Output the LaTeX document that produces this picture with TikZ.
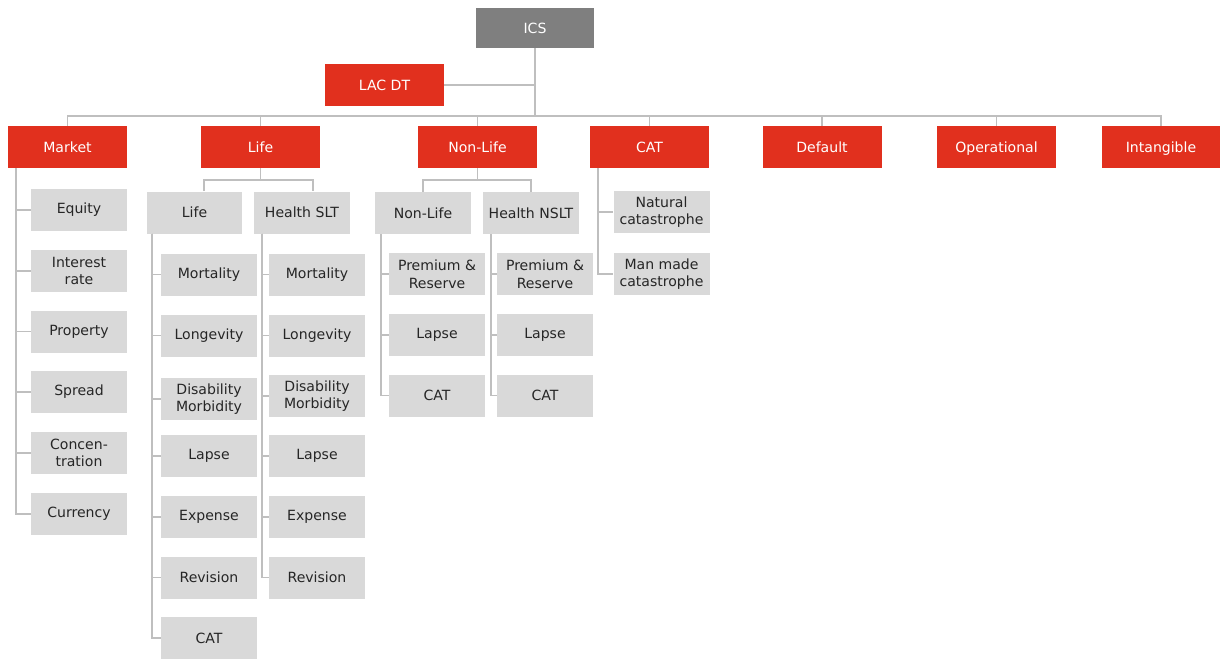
\documentclass[tikz,border=0pt]{standalone}
\usepackage{fontspec}
\setmainfont{DejaVu Sans}
\usepackage{xcolor}
\definecolor{icsred}{HTML}{E1301E}
\definecolor{icsgrey}{HTML}{7F7F7F}
\definecolor{boxgrey}{HTML}{D9D9D9}
\definecolor{linegrey}{HTML}{BFBFBF}
\definecolor{txtdark}{HTML}{262626}

\begin{document}
\begin{tikzpicture}[x=0.02cm, y=-0.02cm,
    every node/.style={inner sep=0pt, align=center, font=\fontsize{8}{10}\selectfont},
    topbox/.style={fill=icsgrey, text=white, minimum width=2.36cm, minimum height=0.8cm, text height=6pt, text depth=0.2pt},
    riskbox/.style={fill=icsred, text=white, minimum width=2.38cm, minimum height=0.84cm, text height=6pt, text depth=0.2pt},
    subbox/.style={fill=boxgrey, text=txtdark, minimum width=1.92cm, minimum height=0.84cm},
    link/.style={draw=linegrey, line width=1.1pt}]
    \useasboundingbox (0,0) rectangle (1220,660);

    % top
    \node[topbox] (ics) at (535,28) {ICS};
    \node[riskbox] (lac) at (384.5,85) {LAC DT};
    \coordinate (bus) at (535,116);

    % modules
    \node[riskbox] (mkt) at (67.5,147) {Market};
    \node[riskbox] (life) at (260.5,147) {Life};
    \node[riskbox] (nl) at (477.5,147) {Non-Life};
    \node[riskbox] (cat) at (649.5,147) {CAT};
    \node[riskbox] (def) at (822,147) {Default};
    \node[riskbox] (op) at (996.5,147) {Operational};
    \node[riskbox] (int) at (1161,147) {Intangible};

    % market
    \node[subbox] (eq) at (79,210) {Equity};
    \node[subbox] (ir) at (79,271) {Interest\\rate};
    \node[subbox] (pr) at (79,331.5) {Property};
    \node[subbox] (sp) at (79,392) {Spread};
    \node[subbox] (co) at (79,453) {Concen-\\tration};
    \node[subbox] (cu) at (79,514) {Currency};

    % life
    \node[subbox] (lifeL) at (194.5,212.5) {Life};
    \node[subbox] (hslt) at (302,212.5) {Health SLT};
    \node[subbox] (lmo) at (209,274.5) {Mortality};
    \node[subbox] (llo) at (209,335.5) {Longevity};
    \node[subbox] (ldi) at (209,399) {Disability\\Morbidity};
    \node[subbox] (lla) at (209,456) {Lapse};
    \node[subbox] (lex) at (209,517) {Expense};
    \node[subbox] (lre) at (209,577.5) {Revision};
    \node[subbox] (lca) at (209,638) {CAT};
    \node[subbox] (hmo) at (317,274.5) {Mortality};
    \node[subbox] (hlo) at (317,335.5) {Longevity};
    \node[subbox] (hdi) at (317,396) {Disability\\Morbidity};
    \node[subbox] (hla) at (317,456) {Lapse};
    \node[subbox] (hex) at (317,517) {Expense};
    \node[subbox] (hre) at (317,577.5) {Revision};

    % non-life
    \node[subbox] (nlL) at (423,213) {Non-Life};
    \node[subbox] (hnslt) at (531,213) {Health NSLT};
    \node[subbox] (npr) at (437,274) {Premium \&\\Reserve};
    \node[subbox] (nla) at (437,335) {Lapse};
    \node[subbox] (nca) at (437,395.5) {CAT};
    \node[subbox] (hpr) at (545,274) {Premium \&\\Reserve};
    \node[subbox] (hnla) at (545,335) {Lapse};
    \node[subbox] (hnca) at (545,395.5) {CAT};

    % cat
    \node[subbox] (nat) at (661.5,212) {Natural\\catastrophe};
    \node[subbox] (man) at (661.5,274) {Man made\\catastrophe};

    % links
    \draw[link] (ics) -- (bus);
    \draw[link] (lac.east) -- (lac.east -| bus);
    \draw[link] (mkt.north) |- (bus) -| (int.north);
    \foreach \m in {life,nl,cat,def,op}
        \draw[link] (\m.north) -- (\m.north |- bus);

    \foreach \c in {eq,ir,pr,sp,co,cu}
        \draw[link] ([xshift=0.16cm]mkt.south west) |- (\c.west);

    \draw[link] (life.south) -- ++(0,12) coordinate (lifeB);
    \draw[link] ([xshift=0.19cm]lifeL.north) |- (lifeB) -| ([xshift=0.22cm]hslt.north);
    \foreach \c in {lmo,llo,ldi,lla,lex,lre,lca}
        \draw[link] ([xshift=0.12cm]lifeL.south west) |- (\c.west);
    \foreach \c in {hmo,hlo,hdi,hla,hex,hre}
        \draw[link] ([xshift=0.16cm]hslt.south west) |- (\c.west);

    \draw[link] (nl.south) -- ++(0,12) coordinate (nlB);
    \draw[link] (nlL.north) |- (nlB) -| (hnslt.north);
    \foreach \c in {npr,nla,nca}
        \draw[link] ([xshift=0.12cm]nlL.south west) |- (\c.west);
    \foreach \c in {hpr,hnla,hnca}
        \draw[link] ([xshift=0.16cm]hnslt.south west) |- (\c.west);

    \foreach \c in {nat,man}
        \draw[link] ([xshift=0.16cm]cat.south west) |- (\c.west);
\end{tikzpicture}
\end{document}
